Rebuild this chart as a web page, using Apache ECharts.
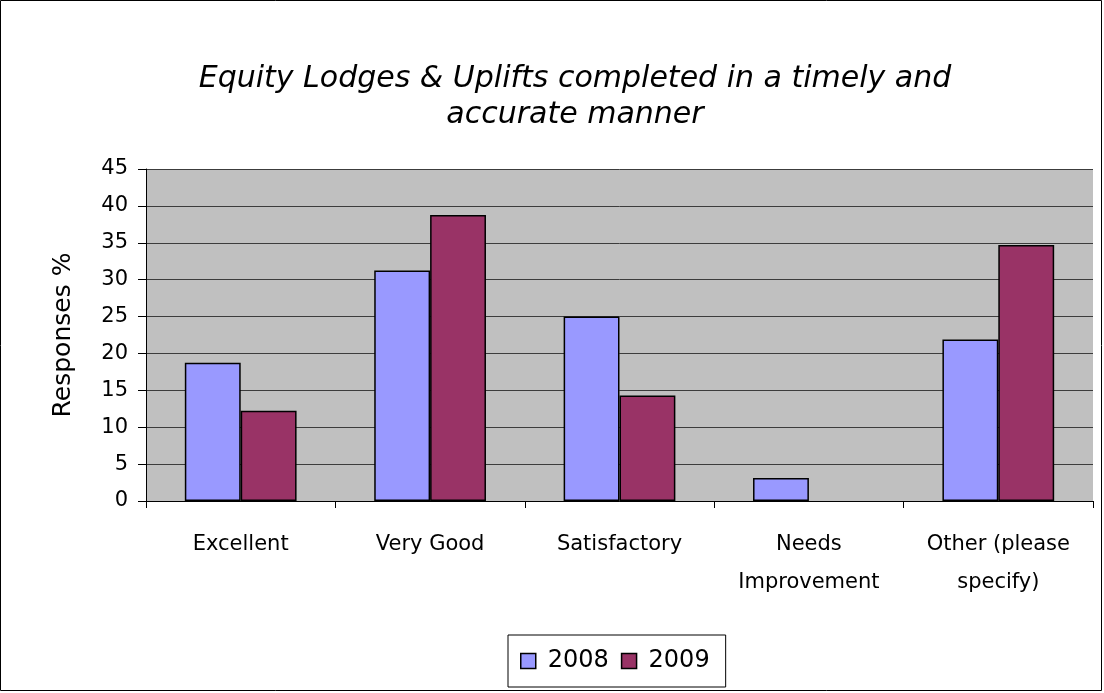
<!DOCTYPE html>
<html>
<head>
<meta charset="utf-8">
<script src="https://cdn.jsdelivr.net/npm/echarts@6/dist/echarts.min.js"></script>
<style>
  html, body { margin: 0; padding: 0; background: #fff; }
  #main { width: 1104px; height: 693px; }
</style>
</head>
<body>
<div id="main"></div>
<script>
// categories and values
var categories = ['Excellent', 'Very Good', 'Satisfactory', 'Needs\nImprovement', 'Other (please\nspecify)'];
var values2008 = [18.75, 31.25, 25, 3.125, 21.875];
var values2009 = [12.24, 38.78, 14.29, 0, 34.69];
var yTicks = [0, 5, 10, 15, 20, 25, 30, 35, 40, 45];

// an empty bar in the original has no outline at all
function barData(vals) {
  return vals.map(function (v) {
    return v === 0 ? { value: v, itemStyle: { borderWidth: 0 } } : v;
  });
}

var chart = echarts.init(document.getElementById('main'));

var option = {
  animation: false,
  backgroundColor: '#ffffff',
  title: {
    text: 'Equity Lodges & Uplifts completed in a timely and\naccurate manner',
    left: 570,
    textAlign: 'center',
    top: 56,
    textStyle: {
      fontFamily: 'DejaVu Sans',
      fontStyle: 'italic',
      fontWeight: 'normal',
      fontSize: 30,
      lineHeight: 36,
      color: '#000'
    }
  },
  graphic: [{
    type: 'rect',
    shape: { x: 0.5, y: 0.5, width: 1101, height: 690 },
    style: { fill: 'none', stroke: '#000', lineWidth: 1 },
    silent: true
  }],
  legend: {
    data: ['2008', '2009'],
    left: 508,
    top: 635,
    padding: [14, 16, 14, 12],
    borderColor: '#000',
    borderWidth: 1,
    itemWidth: 15,
    itemHeight: 15,
    itemGap: 12,
    icon: 'rect',
    itemStyle: { borderColor: '#000', borderWidth: 1.5 },
    textStyle: { fontFamily: 'DejaVu Sans', fontSize: 24, color: '#000', padding: [0, 0, 0, 7] }
  },
  grid: {
    left: 146,
    right: 11,
    top: 169,
    bottom: 192,
    show: true,
    backgroundColor: '#c0c0c0',
    borderWidth: 0
  },
  xAxis: {
    type: 'category',
    data: categories,
    axisLine: { lineStyle: { color: '#000', width: 1 } },
    axisTick: { show: true, length: 7, lineStyle: { color: '#000' } },
    axisLabel: {
      interval: 0,
      margin: 25,
      fontFamily: 'DejaVu Sans',
      fontSize: 21,
      lineHeight: 38,
      color: '#000',
      verticalAlign: 'top'
    }
  },
  yAxis: {
    type: 'value',
    min: yTicks[0],
    max: yTicks[yTicks.length - 1],
    interval: 5,
    name: 'Responses %',
    nameLocation: 'middle',
    nameGap: 70,
    nameTextStyle: { fontFamily: 'DejaVu Sans', fontSize: 25, color: '#000' },
    axisLine: { show: true, lineStyle: { color: '#000', width: 1 } },
    axisTick: { show: true, length: 8, lineStyle: { color: '#000' } },
    axisLabel: { fontFamily: 'DejaVu Sans', fontSize: 21, color: '#000', margin: 18 },
    splitLine: { show: true, lineStyle: { color: '#3c3c3c', width: 1 } }
  },
  series: [
    {
      name: '2008',
      type: 'bar',
      data: barData(values2008),
      barGap: '0%',
      barCategoryGap: '41%',
      itemStyle: { color: '#9999ff', borderColor: '#000', borderWidth: 1.5 }
    },
    {
      name: '2009',
      type: 'bar',
      data: barData(values2009),
      itemStyle: { color: '#993366', borderColor: '#000', borderWidth: 1.5 }
    }
  ]
};

chart.setOption(option);
</script>
</body>
</html>
